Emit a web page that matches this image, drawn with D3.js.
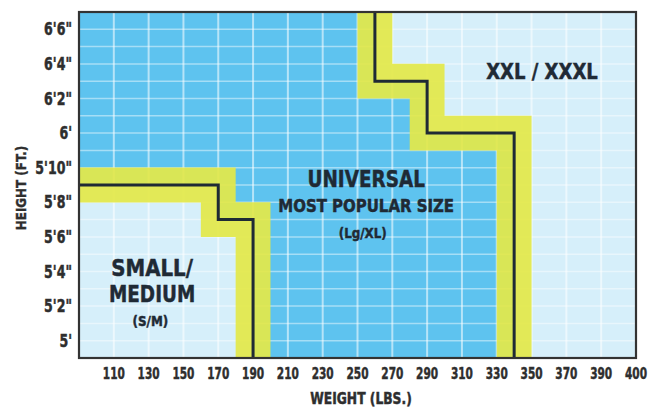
<!DOCTYPE html>
<html>
<head>
<meta charset="utf-8">
<script src="https://cdn.jsdelivr.net/npm/d3@7"></script>
<style>
  html, body { margin: 0; padding: 0; background: #fff; }
  svg { display: block; }
  text { font-family: 'DejaVu Sans', sans-serif; font-weight: bold; }
</style>
</head>
<body>
<div id="svg-container"></div>
<script>
// weight axis (lbs) tick labels, one per 20 lbs column edge
const weightTicks = [110, 130, 150, 170, 190, 210, 230, 250, 270, 290, 310, 330, 350, 370, 390, 410]
const weightLabels = ['110', '130', '150', '170', '190', '210', '230', '250', '270', '290', '310', '330', '350', '370', '390', '400']

// height axis (inches) and labels
const heightTicks = [60, 62, 64, 66, 68, 70, 72, 74, 76, 78]
const heightLabels = ['5\'', '5\'2"', '5\'4"', '5\'6"', '5\'8"', '5\'10"', '6\'', '6\'2"', '6\'4"', '6\'6"']

// size boundaries as [weight, inches] steps
const smallBoundary = [[90, 69], [170, 69], [170, 67], [190, 67], [190, 59]]
const xxlBoundary = [[260, 79], [260, 75], [290, 75], [290, 72], [340, 72], [340, 59]]
const overlapLbs = 10 // yellow band half width

// zone names
const xxlText = ['XXL / XXXL']
const universalText = ['UNIVERSAL', 'MOST POPULAR SIZE', '(Lg/XL)']
const smallText = ['SMALL/', 'MEDIUM', '(S/M)']

const width = 648
const height = 408
const marginLeft = 79
const marginRight = 12
const marginTop = 12
const marginBottom = 50

const lightBlue = '#d6effa'
const midBlue = '#5ec3ef'
const yellow = '#e3e84a'
const ink = '#1f2a35'

const svg = d3.select('#svg-container')
  .append('svg')
  .attr('width', width)
  .attr('height', height)

const x = d3.scaleLinear().domain([90, 410]).range([marginLeft, width - marginRight])
const y = d3.scaleLinear().domain([59, 79]).range([height - marginBottom, marginTop])

svg.append('clipPath').attr('id', 'plot-clip')
  .append('rect')
  .attr('x', x(90)).attr('y', y(79))
  .attr('width', x(410) - x(90)).attr('height', y(59) - y(79))

const plot = svg.append('g').attr('clip-path', 'url(#plot-clip)')

// background (small/medium + xxl)
plot.append('rect')
  .attr('x', x(90)).attr('y', y(79))
  .attr('width', x(410) - x(90)).attr('height', y(59) - y(79))
  .attr('fill', lightBlue)

// universal zone
const universal = smallBoundary.concat(xxlBoundary.slice().reverse(), [[90, 79]])
const line = d3.line().x(d => x(d[0])).y(d => y(d[1]))
plot.append('path')
  .attr('d', line(universal) + 'Z')
  .attr('fill', midBlue)

// grid: one line per 20 lbs, one per inch
const gridX = d3.range(110, 410, 20)
const gridY = d3.range(60, 79, 1)
plot.append('g').selectAll('line').data(gridX).join('line')
  .attr('x1', d => x(d)).attr('x2', d => x(d))
  .attr('y1', y(79)).attr('y2', y(59))
  .attr('stroke', '#fff').attr('stroke-opacity', 0.55).attr('stroke-width', 2)
plot.append('g').selectAll('line').data(gridY).join('line')
  .attr('x1', x(90)).attr('x2', x(410))
  .attr('y1', d => y(d)).attr('y2', d => y(d))
  .attr('stroke', '#fff').attr('stroke-opacity', 0.45).attr('stroke-width', 1.5)

// yellow overlap bands
const bandWidth = 2 * (x(90 + overlapLbs) - x(90))
plot.selectAll('.band').data([smallBoundary, xxlBoundary]).join('path')
  .attr('class', 'band')
  .attr('d', line)
  .attr('fill', 'none')
  .attr('stroke', yellow)
  .attr('stroke-opacity', 0.93)
  .attr('stroke-width', bandWidth)
  .attr('stroke-linejoin', 'miter')

// boundary lines
plot.selectAll('.edge').data([smallBoundary, xxlBoundary]).join('path')
  .attr('class', 'edge')
  .attr('d', line)
  .attr('fill', 'none')
  .attr('stroke', ink)
  .attr('stroke-width', 3)

// frame
svg.append('rect')
  .attr('x', x(90)).attr('y', y(79))
  .attr('width', x(410) - x(90)).attr('height', y(59) - y(79))
  .attr('fill', 'none')
  .attr('stroke', '#333')
  .attr('stroke-width', 2.2)

// condensed heavy text helper
const label = (px, py, str, size, squeeze, anchor = 'middle', color = ink) =>
  svg.append('text')
    .attr('transform', `translate(${px},${py}) scale(${squeeze},1)`)
    .attr('text-anchor', anchor)
    .attr('font-size', size)
    .attr('fill', color)
    .attr('stroke', color)
    .attr('stroke-width', 0.5)
    .text(str)

// zone labels
label(x(356), y(75.1), xxlText[0], 22, 0.82)

label(x(255), y(68.9), universalText[0], 23, 0.8)
label(x(255), y(67.45), universalText[1], 17, 0.88)
label(x(253), y(65.95), universalText[2], 14, 0.85)

label(x(132), y(63.75), smallText[0], 23, 0.86)
label(x(132), y(62.25), smallText[1], 23, 0.8)
label(x(131), y(60.85), smallText[2], 14, 0.85)

// x tick labels
weightTicks.forEach((d, i) => label(x(d), y(59) + 21, weightLabels[i], 16, 0.66, 'middle', '#2e2e2e'))

// y tick labels
heightTicks.forEach((d, i) => label(x(90) - 7, y(d) + 6, heightLabels[i], 17, 0.74, 'end', '#2e2e2e'))

// axis titles
label(361, 404, 'WEIGHT (LBS.)', 15, 0.82, 'middle', '#2e2e2e')

svg.append('text')
  .attr('transform', 'translate(26,188) rotate(-90) scale(0.85,1)')
  .attr('text-anchor', 'middle')
  .attr('font-size', 14)
  .attr('fill', '#2e2e2e')
  .attr('stroke', '#2e2e2e')
  .attr('stroke-width', 0.4)
  .text('HEIGHT (FT.)')
</script>
</body>
</html>
